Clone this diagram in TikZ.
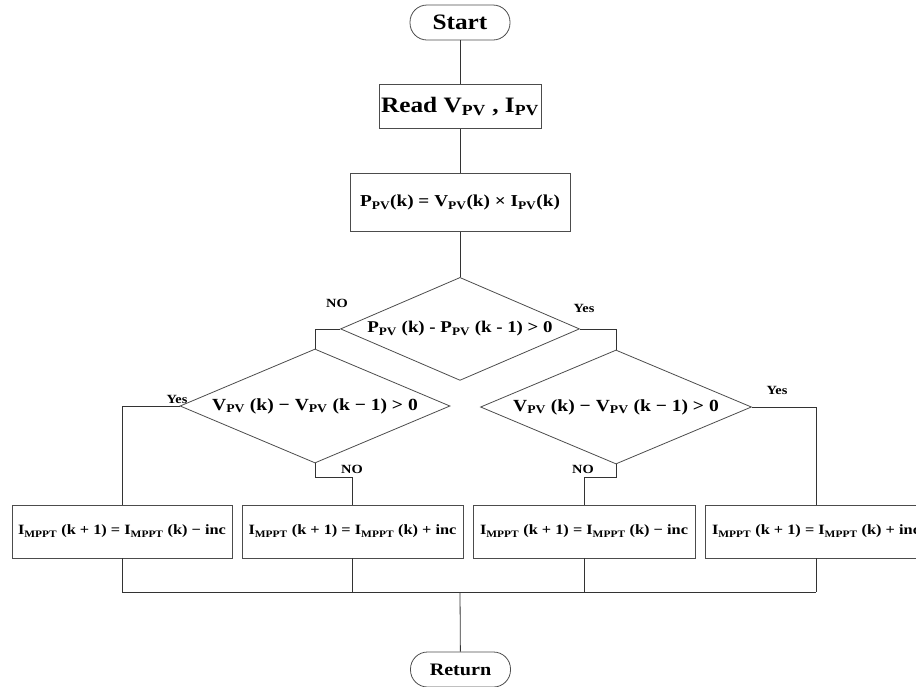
\documentclass[tikz,border=0pt]{standalone}
\usepackage{fontspec}
\setmainfont{Liberation Serif}[FakeStretch=1.15]
\usetikzlibrary{shapes.geometric,positioning}
\newcommand\subs[1]{\textsubscript{#1}}

\begin{document}
\begin{tikzpicture}[
    x=1pt, y=-1pt,
    font=\bfseries,
    term/.style={draw=black!70, rounded corners=17pt, minimum width=100pt, minimum height=35pt, line width=0.8pt, font=\fontsize{22}{24}\selectfont\bfseries},
    proc/.style={draw=black!70, inner sep=0pt, line width=0.8pt},
    decide/.style={diamond, draw=black!70, aspect=2.35, inner sep=0pt, line width=0.8pt, font=\fontsize{17}{20}\selectfont\bfseries},
    upd/.style={draw=black!70, minimum width=221pt, minimum height=53pt, inner sep=0pt, line width=0.8pt, font=\fontsize{14.2}{17}\selectfont\bfseries},
    tag/.style={font=\fontsize{12.5}{13}\selectfont\bfseries},
    link/.style={draw=black!80, line width=0.8pt}
]
\useasboundingbox (0,0) rectangle (916,686);
\clip (0,0) rectangle (916,686);

\node[term] (start) at (460,22.5) {Start};
\node[proc, minimum width=162pt, minimum height=44pt, font=\fontsize{22}{24}\selectfont\bfseries, below=44pt of start] (read) {Read V\subs{PV} , I\subs{PV}};
\node[proc, minimum width=220pt, minimum height=58pt, font=\fontsize{16.7}{20}\selectfont\bfseries, below=44pt of read] (power) {P\subs{PV}(k) = V\subs{PV}(k) × I\subs{PV}(k)};
\node[decide, minimum width=239pt, minimum height=103pt, font=\fontsize{16.4}{20}\selectfont\bfseries, below=45pt of power] (dec) {P\subs{PV} (k) - P\subs{PV} (k - 1) > 0};

\node[decide, minimum width=270pt, minimum height=114pt] (decL) at (315,406) {V\subs{PV} (k) − V\subs{PV} (k − 1) > 0};
\node[decide, minimum width=271pt, minimum height=114pt] (decR) at (616,407) {V\subs{PV} (k) − V\subs{PV} (k − 1) > 0};

\node[upd, minimum width=220pt] (decA) at (122,531.5) {I\subs{MPPT} (k + 1) = I\subs{MPPT} (k) − inc};
\node[upd] (incA) at (352.5,531.5) {I\subs{MPPT} (k + 1) = I\subs{MPPT} (k) + inc};
\node[upd, minimum width=222pt] (decB) at (584,531.5) {I\subs{MPPT} (k + 1) = I\subs{MPPT} (k) − inc};
\node[upd, minimum width=222pt] (incB) at (816,531.5) {I\subs{MPPT} (k + 1) = I\subs{MPPT} (k) + inc};

\node[term, font=\fontsize{17.5}{20}\selectfont\bfseries] (ret) at (460.5,669.5) {Return};

% branch labels
\node[tag] (noM) at (337,303) {NO};
\node[tag] (yesM) at (584,308) {Yes};
\node[tag] (yesL) at (177,399) {Yes};
\node[tag] (noL) at (352,469) {NO};
\node[tag] (yesR) at (777,390) {Yes};
\node[tag] (noR) at (583,469) {NO};

\draw[link] (start) -- (read);
\draw[link] (read) -- (power);
\draw[link] (power) -- (dec);
\draw[link] (dec.west) -| (decL.north);
\draw[link] (dec.east) -| (decR.north);
\draw[link] (decL.west) -| (decA.north);
\draw[link] (decL.south) -- ++(0,14) -| (incA.north);
\draw[link] (decR.east) -| (incB.north);
\draw[link] (decR.south) -- ++(0,13) -| (decB.north);

\coordinate (merge) at (460,592);
\foreach \b in {decA,incA,decB,incB}
  \draw[link] (\b.south) -- (\b.south |- merge);
\draw[link] (decA.south |- merge) -- (incB.south |- merge);
\draw[link] (merge) -- (ret);
\end{tikzpicture}
\end{document}
